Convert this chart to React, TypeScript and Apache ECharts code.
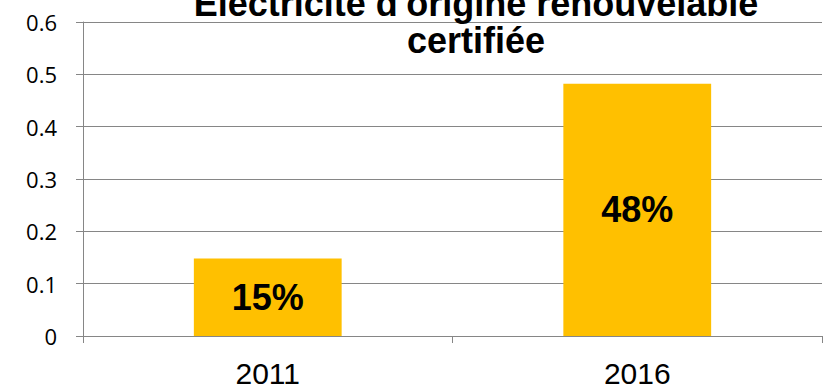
import React, { useEffect, useRef } from "react";
import * as echarts from "echarts";

const categories = ["2011", "2016"];
const values = [0.148, 0.482];
const yTicks = [0, 0.1, 0.2, 0.3, 0.4, 0.5, 0.6];
const titleLines = ["Électricité d'origine renouvelable", "certifiée"];

export default function App() {
  const ref = useRef<HTMLDivElement>(null);
  useEffect(() => {
    if (!ref.current) return;
    const chart = echarts.init(ref.current, null, { renderer: "svg" });
    chart.setOption({
      animation: false,
      backgroundColor: "#ffffff",
      grid: { left: 83, right: 3, top: 22, bottom: 51, containLabel: false },
      xAxis: {
        type: "category",
        data: categories,
        boundaryGap: true,
        axisLine: { lineStyle: { color: "#868686", width: 1 } },
        axisTick: { show: true, length: 7, lineStyle: { color: "#868686" }, alignWithLabel: false },
        axisLabel: {
          color: "#000000",
          fontFamily: "'Liberation Sans', Arial, sans-serif",
          fontSize: 30,
          margin: 22,
        },
      },
      yAxis: {
        type: "value",
        min: yTicks[0],
        max: yTicks[yTicks.length - 1],
        interval: 0.1,
        axisLine: { show: true, lineStyle: { color: "#868686", width: 1 } },
        axisTick: { show: true, length: 7, lineStyle: { color: "#868686" } },
        splitLine: { show: true, lineStyle: { color: "#868686", width: 1 } },
        axisLabel: {
          color: "#000000",
          fontFamily: "'Open Sans', sans-serif",
          fontSize: 22,
          margin: 26,
          formatter: (v: number) => String(Math.round(v * 10) / 10),
        },
      },
      graphic: [
        {
          type: "text",
          x: 476,
          y: 3,
          z: 100,
          style: {
            text: titleLines[0],
            fill: "#000000",
            font: "bold 36px 'Liberation Sans', Arial, sans-serif",
            align: "center",
            verticalAlign: "middle",
          },
        },
        {
          type: "text",
          x: 476,
          y: 40.5,
          z: 100,
          style: {
            text: titleLines[1],
            fill: "#000000",
            font: "bold 36px 'Liberation Sans', Arial, sans-serif",
            align: "center",
            verticalAlign: "middle",
          },
        },
      ],
      series: [
        {
          type: "bar",
          data: values,
          barWidth: "40%",
          itemStyle: { color: "#FFC000" },
          label: {
            show: true,
            position: "inside",
            color: "#000000",
            fontFamily: "'Liberation Sans', Arial, sans-serif",
            fontWeight: "bold",
            fontSize: 36,
            formatter: (p: any) => Math.round(p.value * 100) + "%",
          },
        },
      ],
    });
    return () => chart.dispose();
  }, []);
  return <div ref={ref} style={{ width: 825, height: 388, position: "absolute", left: 0, top: 0 }} />;
}
